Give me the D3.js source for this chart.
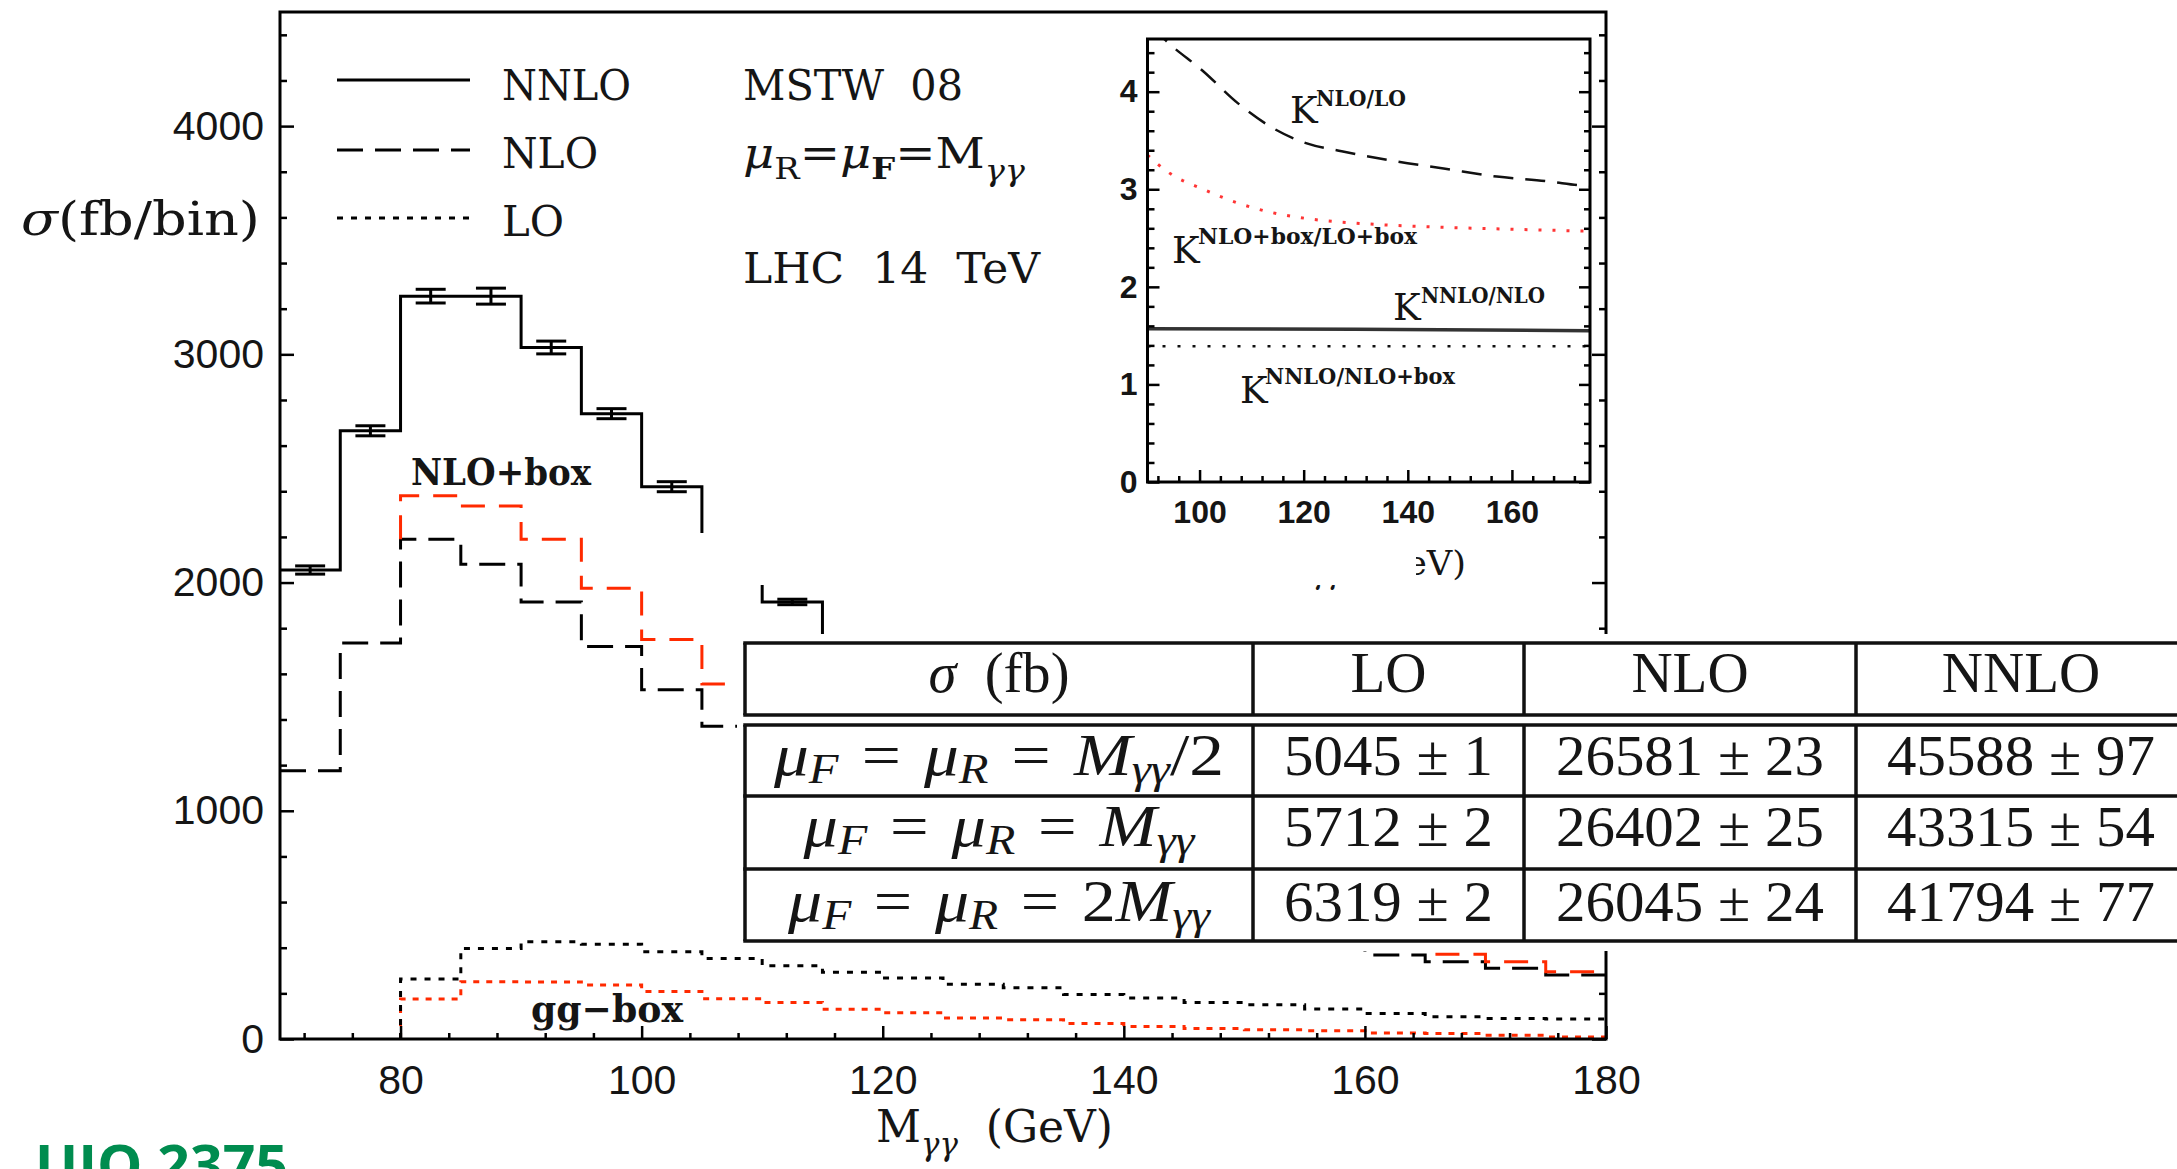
<!DOCTYPE html>
<html>
<head>
<meta charset="utf-8">
<script src="https://cdn.jsdelivr.net/npm/d3@7"></script>
<style>
  html, body { margin: 0; padding: 0; background: #fff; overflow: hidden; }
  svg { display: block; }
</style>
</head>
<body>
<svg id="chart" width="2177" height="1169"></svg>
<script>
// ---------------------------------------------------------------------------
// Diphoton invariant-mass distribution at the LHC (14 TeV), MSTW 08 PDFs,
// with K-factor inset and total cross-section table.
// ---------------------------------------------------------------------------

// Bin edges of the M_gammagamma histogram (GeV)
const massEdges = [70, 75, 80, 85, 90, 95, 100, 105, 110, 115, 120, 125, 130,
                   135, 140, 145, 150, 155, 160, 165, 170, 175, 180];

// sigma (fb/bin) per bin; null where the curve is not shown
const nnlo    = [2055, 2665, 3255, 3255, 3030, 2740, 2420, 2150, 1915, 1745,
                 null, null, null, null, null, null, null, null, null, null, null, null];
const nnloErr = [18, 22, 30, 35, 28, 22, 22, 20, 12, 20,
                 null, null, null, null, null, null, null, null, null, null, null, null];
const nlo     = [1175, 1735, 2190, 2080, 1915, 1720, 1530, 1370,
                 null, null, null, null, null, null, null, null, null,
                 400, 368, 339, 310, 280];
const nloBox  = [null, null, 2380, 2335, 2190, 1975, 1750, 1555,
                 null, null, null, null, null, null, null, null, null, null,
                 395, 371, 339, 295];
const nloBoxFloor = 2190;   // NLO+box curve rises from the NLO level at 80 GeV
const lo      = [null, null, 263, 397, 426, 415, 382, 353, 321, 293, 267, 240,
                 225, 195, 180, 160, 150, 132, 112, 98, 90, 88];
const ggBox   = [null, null, 175, 251, 250, 237, 208, 176, 160, 130, 115, 92,
                 84, 68, 55, 46, 40, 36, 26, 24, 16, 9];

// Axis tick labels
const yTicks = [0, 1000, 2000, 3000, 4000];
const xTicks = [80, 100, 120, 140, 160, 180];
const legendNames = ["NNLO", "NLO", "LO"];

// K-factors versus M_gammagamma (inset)
const kNloLo       = [[91, 4.66], [93.4, 4.53], [100.7, 4.21], [107.4, 3.88], [114, 3.63],
                      [120.6, 3.47], [127.3, 3.39], [137.2, 3.29], [147.2, 3.21],
                      [157.1, 3.13], [167, 3.08], [173, 3.04], [175, 3.03]];
const kNloBoxLoBox = [[90, 3.35], [94.1, 3.17], [100.7, 3.0], [107.3, 2.86], [114, 2.76],
                      [120.6, 2.70], [133.9, 2.64], [147.2, 2.61], [160.4, 2.59], [175, 2.57]];
const kNnloNlo     = [[90, 1.57], [130, 1.565], [175, 1.55]];
const kNnloNloBox  = [[90, 1.39], [175, 1.39]];
const insetXTicks = [100, 120, 140, 160];
const insetYTicks = [0, 1, 2, 3, 4];

// Total cross sections (fb) for three scale choices
const tableHeader = ["LO", "NLO", "NNLO"];
const scaleFactor = ["/2", "", "2"];            // mu = M/2, M, 2M
const loXsec   = [5045, 5712, 6319];
const loErr    = [1, 2, 2];
const nloXsec  = [26581, 26402, 26045];
const nloErrT  = [23, 25, 24];
const nnloXsec = [45588, 43315, 41794];
const nnloErrT = [97, 54, 77];

// ---------------------------------------------------------------------------
const svg = d3.select("#chart");
const serif = "'DejaVu Serif', serif";
const sans = "'Liberation Sans', Arial, sans-serif";
const texFont = "'Liberation Serif', 'Times New Roman', serif";
const ink = "#151515";

svg.append("rect").attr("width", 2177).attr("height", 1169).attr("fill", "#fff");

// text helper with subscripts and optional extra gaps
function rich(parent, x, y, parts, o) {
  const t = parent.append("text").attr("x", x).attr("y", y)
    .attr("font-family", o.family).attr("font-size", o.size)
    .attr("fill", o.fill || ink).style("white-space", "pre");
  if (o.anchor) t.attr("text-anchor", o.anchor);
  if (o.weight) t.attr("font-weight", o.weight);
  if (o.len) t.attr("textLength", o.len).attr("lengthAdjust", o.adjust || "spacingAndGlyphs");
  let shift = 0;
  parts.forEach(p => {
    const s = t.append("tspan").text(p.t);
    const want = p.sub ? o.size * (p.drop || o.drop || 0.26) : 0;
    if (want !== shift) { s.attr("dy", want - shift); shift = want; }
    if (p.dx) s.attr("dx", p.dx);
    if (p.sub) s.attr("font-size", o.size * (p.scale || 0.7));
    if (p.i) s.attr("font-style", "italic");
    if (p.b) s.attr("font-weight", "bold");
  });
  return t;
}

// ---------------------------------------------------------------------------
// Main panel
const plot = { left: 280, right: 1606, top: 12, bottom: 1039 };
const x = d3.scaleLinear().domain([70, 180]).range([plot.left, plot.right]);
const y = d3.scaleLinear().domain([0, 4500]).range([plot.bottom, plot.top]);

function stepSegments(values, base) {
  const segs = [];
  let cur = null;
  values.forEach((v, i) => {
    if (v == null) { cur = null; return; }
    const x0 = massEdges[i], x1 = massEdges[i + 1];
    if (!cur) {
      cur = [];
      segs.push(cur);
      if (segs.length === 1 && base != null) cur.push([x0, base]);
    }
    cur.push([x0, v], [x1, v]);
  });
  return segs;
}
const line = d3.line().x(d => x(d[0])).y(d => y(d[1]));

function drawStep(values, base, style) {
  stepSegments(values, base).forEach(seg => {
    svg.append("path").attr("d", line(seg)).attr("fill", "none")
      .attr("stroke", style.color).attr("stroke-width", style.width)
      .attr("stroke-dasharray", style.dash || null)
      .attr("stroke-linejoin", "miter");
  });
}

const styles = {
  nnlo:   { color: "#000", width: 3 },
  nlo:    { color: "#000", width: 3, dash: "26,12" },
  nloBox: { color: "#ff2a00", width: 3, dash: "24,14" },
  lo:     { color: "#000", width: 3, dash: "6,8" },
  ggBox:  { color: "#ff2a00", width: 3, dash: "6,7" }
};

drawStep(ggBox, 0, styles.ggBox);
drawStep(lo, 0, styles.lo);
drawStep(nlo, null, styles.nlo);
drawStep(nloBox, nloBoxFloor, styles.nloBox);
drawStep(nnlo, null, styles.nnlo);

// NNLO statistical error bars
const errG = svg.append("g").attr("stroke", "#000").attr("stroke-width", 3);
nnlo.forEach((v, i) => {
  if (v == null) return;
  const cx = x((massEdges[i] + massEdges[i + 1]) / 2);
  const e = nnloErr[i];
  errG.append("line").attr("x1", cx).attr("x2", cx).attr("y1", y(v - e)).attr("y2", y(v + e));
  [v - e, v + e].forEach(yy => errG.append("line")
    .attr("x1", cx - 15).attr("x2", cx + 15).attr("y1", y(yy)).attr("y2", y(yy)));
});

// axes with inward ticks
function styleAxis(g, fontSize, weight) {
  g.select(".domain").remove();
  g.selectAll("line").attr("stroke", "#000").attr("stroke-width", 2.5);
  g.selectAll("text").attr("font-family", sans).attr("font-size", fontSize)
    .attr("fill", ink).attr("font-weight", weight || "normal");
}
const yMinor = d3.range(200, 4500, 200).filter(v => v % 1000 !== 0);
const xMinor = d3.range(72, 180, 4).filter(v => v % 20 !== 0);

styleAxis(svg.append("g").attr("transform", `translate(${plot.left},0)`)
  .call(d3.axisLeft(y).tickValues(yTicks).tickSizeInner(-14).tickSizeOuter(0)
    .tickPadding(16).tickFormat(d3.format("d"))), 41);
styleAxis(svg.append("g").attr("transform", `translate(${plot.left},0)`)
  .call(d3.axisLeft(y).tickValues(yMinor).tickSizeInner(-7).tickSizeOuter(0).tickFormat("")), 41);
styleAxis(svg.append("g").attr("transform", `translate(${plot.right},0)`)
  .call(d3.axisRight(y).tickValues(yTicks).tickSizeInner(-14).tickSizeOuter(0).tickFormat("")), 41);
styleAxis(svg.append("g").attr("transform", `translate(${plot.right},0)`)
  .call(d3.axisRight(y).tickValues(yMinor).tickSizeInner(-7).tickSizeOuter(0).tickFormat("")), 41);
styleAxis(svg.append("g").attr("transform", `translate(0,${plot.bottom})`)
  .call(d3.axisBottom(x).tickValues(xTicks).tickSizeInner(-13).tickSizeOuter(0)
    .tickPadding(26).tickFormat(d3.format("d"))), 41);
styleAxis(svg.append("g").attr("transform", `translate(0,${plot.bottom})`)
  .call(d3.axisBottom(x).tickValues(xMinor).tickSizeInner(-6).tickSizeOuter(0).tickFormat("")), 41);

svg.append("rect").attr("x", plot.left).attr("y", plot.top)
  .attr("width", plot.right - plot.left).attr("height", plot.bottom - plot.top)
  .attr("fill", "none").attr("stroke", "#000").attr("stroke-width", 3);

// axis titles
rich(svg, 21, 235, [{ t: "σ", i: true }, { t: "(fb/bin)" }],
  { family: serif, size: 46, len: 239 });
rich(svg, 876, 1142, [{ t: "M" }, { t: "γγ", sub: true, i: true, drop: 0.3 }, { t: "  (GeV)" }],
  { family: serif, size: 44, len: 237 });

// legend
const legendStyles = [styles.nnlo, styles.nlo, styles.lo];
const legendY = [80, 150, 218];
const legendBase = [100, 168, 236];
legendNames.forEach((name, i) => {
  const st = legendStyles[i];
  svg.append("line").attr("x1", 337).attr("x2", 470).attr("y1", legendY[i]).attr("y2", legendY[i])
    .attr("stroke", st.color).attr("stroke-width", st.width)
    .attr("stroke-dasharray", st.dash || null);
  svg.append("text").attr("x", 502).attr("y", legendBase[i]).text(name)
    .attr("font-family", serif).attr("font-size", 43).attr("fill", ink)
    .attr("textLength", [129, 96, 62][i]).attr("lengthAdjust", "spacingAndGlyphs");
});

// run information
rich(svg, 743, 100, [{ t: "MSTW  08" }], { family: serif, size: 43, len: 220 });
rich(svg, 743, 168, [
  { t: "μ", i: true }, { t: "R", sub: true }, { t: "=" },
  { t: "μ", i: true }, { t: "F", sub: true, b: true }, { t: "=" },
  { t: "M" }, { t: "γγ", sub: true, i: true, drop: 0.3 }
], { family: serif, size: 43, len: 282 });
rich(svg, 743, 283, [{ t: "LHC  14  TeV" }], { family: serif, size: 43, len: 297 });

// curve labels
rich(svg, 411, 485, [{ t: "NLO+box" }], { family: serif, size: 37, len: 180, weight: "bold" });
rich(svg, 531, 1022, [{ t: "gg−box" }], { family: serif, size: 38, len: 152, weight: "bold" });

// ---------------------------------------------------------------------------
// Inset: K-factors
const inset = { left: 1147.5, right: 1590, top: 39, bottom: 482 };
const xi = d3.scaleLinear().domain([90, 175]).range([inset.left, inset.right]);
const yi = d3.scaleLinear().domain([0, 4.54]).range([inset.bottom, inset.top]);

svg.append("clipPath").attr("id", "insetClip").append("rect")
  .attr("x", inset.left).attr("y", inset.top)
  .attr("width", inset.right - inset.left).attr("height", inset.bottom - inset.top);

const kLine = d3.line().x(d => xi(d[0])).y(d => yi(d[1])).curve(d3.curveMonotoneX);
const kG = svg.append("g").attr("clip-path", "url(#insetClip)").attr("fill", "none");
kG.append("path").attr("d", kLine(kNnloNlo)).attr("stroke", "#333").attr("stroke-width", 3.5);
kG.append("path").attr("d", kLine(kNnloNloBox)).attr("stroke", "#111").attr("stroke-width", 2.5)
  .attr("stroke-dasharray", "3,12");
kG.append("path").attr("d", kLine(kNloBoxLoBox)).attr("stroke", "#ff3535").attr("stroke-width", 3)
  .attr("stroke-dasharray", "3,11");
kG.append("path").attr("d", kLine(kNloLo)).attr("stroke", "#111").attr("stroke-width", 2.5)
  .attr("stroke-dasharray", "20,12");

const iyMinor = d3.range(0.2, 4.54, 0.2).filter(v => Math.abs(v - Math.round(v)) > 0.05);
const ixMinor = d3.range(92, 175, 4).filter(v => v % 20 !== 0);
styleAxis(svg.append("g").attr("transform", `translate(${inset.left},0)`)
  .call(d3.axisLeft(yi).tickValues(insetYTicks).tickSizeInner(-12).tickSizeOuter(0)
    .tickPadding(10).tickFormat(d3.format("d"))), 32, "bold");
styleAxis(svg.append("g").attr("transform", `translate(${inset.left},0)`)
  .call(d3.axisLeft(yi).tickValues(iyMinor).tickSizeInner(-7).tickSizeOuter(0).tickFormat("")), 32);
styleAxis(svg.append("g").attr("transform", `translate(${inset.right},0)`)
  .call(d3.axisRight(yi).tickValues(insetYTicks).tickSizeInner(-11).tickSizeOuter(0).tickFormat("")), 32);
styleAxis(svg.append("g").attr("transform", `translate(${inset.right},0)`)
  .call(d3.axisRight(yi).tickValues(iyMinor).tickSizeInner(-6).tickSizeOuter(0).tickFormat("")), 32);
styleAxis(svg.append("g").attr("transform", `translate(0,${inset.bottom})`)
  .call(d3.axisBottom(xi).tickValues(insetXTicks).tickSizeInner(-12).tickSizeOuter(0)
    .tickPadding(18).tickFormat(d3.format("d"))), 32, "bold");
styleAxis(svg.append("g").attr("transform", `translate(0,${inset.bottom})`)
  .call(d3.axisBottom(xi).tickValues(ixMinor).tickSizeInner(-6).tickSizeOuter(0).tickFormat("")), 32);

svg.append("rect").attr("x", inset.left).attr("y", inset.top)
  .attr("width", inset.right - inset.left).attr("height", inset.bottom - inset.top)
  .attr("fill", "none").attr("stroke", "#000").attr("stroke-width", 3);

// K-factor labels
const kLabels = [
  { x: 1290, y: 123, sup: "NLO/LO", sx: 1316, sy: 106, len: 90 },
  { x: 1172, y: 263, sup: "NLO+box/LO+box", sx: 1198, sy: 244, len: 219 },
  { x: 1393, y: 320, sup: "NNLO/NLO", sx: 1421, sy: 303, len: 124 },
  { x: 1240, y: 403, sup: "NNLO/NLO+box", sx: 1265, sy: 384, len: 190 }
];
kLabels.forEach(k => {
  svg.append("text").attr("x", k.x).attr("y", k.y).text("K")
    .attr("font-family", serif).attr("font-size", 37).attr("fill", ink);
  svg.append("text").attr("x", k.sx).attr("y", k.sy).text(k.sup)
    .attr("font-family", serif).attr("font-size", 22).attr("font-weight", "bold").attr("fill", ink)
    .attr("textLength", k.len).attr("lengthAdjust", "spacingAndGlyphs");
});

// inset x title (largely hidden under the blank strip below)
rich(svg, 1276, 575, [{ t: "M" }, { t: "γγ", sub: true, i: true, drop: 0.3 }, { t: "  (GeV)" }],
  { family: serif, size: 34, len: 190 });

// blank strip between the inset and the table
svg.append("rect").attr("x", 698).attr("y", 533).attr("width", 718).attr("height", 52).attr("fill", "#fff");

// ---------------------------------------------------------------------------
// Cross-section table
const tbl = { left: 745, right: 2186, top: 643, headBottom: 715, bodyTop: 725,
              rows: [725, 796, 869, 941], cols: [745, 1253, 1524, 1856, 2186] };
svg.append("rect").attr("x", 737).attr("y", 634).attr("width", 2177 - 737).attr("height", 951 - 634)
  .attr("fill", "#fff");

const tg = svg.append("g").attr("stroke", "#111").attr("stroke-width", 3.5);
[tbl.top, tbl.headBottom, tbl.bodyTop, tbl.rows[1], tbl.rows[2], tbl.rows[3]].forEach(yy =>
  tg.append("line").attr("x1", tbl.left - 1.75).attr("x2", tbl.right).attr("y1", yy).attr("y2", yy));
tbl.cols.forEach(xx => {
  tg.append("line").attr("x1", xx).attr("x2", xx).attr("y1", tbl.top).attr("y2", tbl.headBottom);
  tg.append("line").attr("x1", xx).attr("x2", xx).attr("y1", tbl.bodyTop).attr("y2", tbl.rows[3]);
});

const colCenter = i => (tbl.cols[i] + tbl.cols[i + 1]) / 2;
const tOpt = { family: texFont, size: 57, anchor: "middle" };
rich(svg, colCenter(0), 692, [{ t: "σ", i: true }, { t: "  (fb)" }], Object.assign({}, tOpt, { len: 141 }));
tableHeader.forEach((h, i) => rich(svg, colCenter(i + 1), 692, [{ t: h }], tOpt));

const rowBase = [775, 846, 921];
const rowLen = [450, 391, 422];
const fmtPM = (v, e) => `${v} ± ${e}`;
const eqGap = 20;
scaleFactor.forEach((f, r) => {
  const parts = [
    { t: "μ", i: true }, { t: "F", sub: true, i: true },
    { t: "=", dx: eqGap }, { t: "μ", i: true, dx: eqGap }, { t: "R", sub: true, i: true },
    { t: "=", dx: eqGap }
  ];
  if (f === "2") parts.push({ t: "2", dx: eqGap });
  parts.push({ t: "M", i: true, dx: f === "2" ? 0 : eqGap }, { t: "γγ", sub: true, i: true });
  if (f === "/2") parts.push({ t: "/2" });
  rich(svg, colCenter(0), rowBase[r], parts,
    Object.assign({}, tOpt, { len: rowLen[r], drop: 0.13, size: 60 }));
  rich(svg, colCenter(1), rowBase[r], [{ t: fmtPM(loXsec[r], loErr[r]) }], Object.assign({}, tOpt, { len: 209 }));
  rich(svg, colCenter(2), rowBase[r], [{ t: fmtPM(nloXsec[r], nloErrT[r]) }], Object.assign({}, tOpt, { len: 268 }));
  rich(svg, colCenter(3), rowBase[r], [{ t: fmtPM(nnloXsec[r], nnloErrT[r]) }], Object.assign({}, tOpt, { len: 268 }));
});

// footer tag
svg.append("text").attr("x", 35).attr("y", 1184).text("UIO 2375")
  .attr("font-family", "'Open Sans', sans-serif").attr("font-weight", "bold")
  .attr("font-size", 54).attr("fill", "#008c4f")
  .attr("textLength", 253).attr("lengthAdjust", "spacingAndGlyphs");
</script>
</body>
</html>
